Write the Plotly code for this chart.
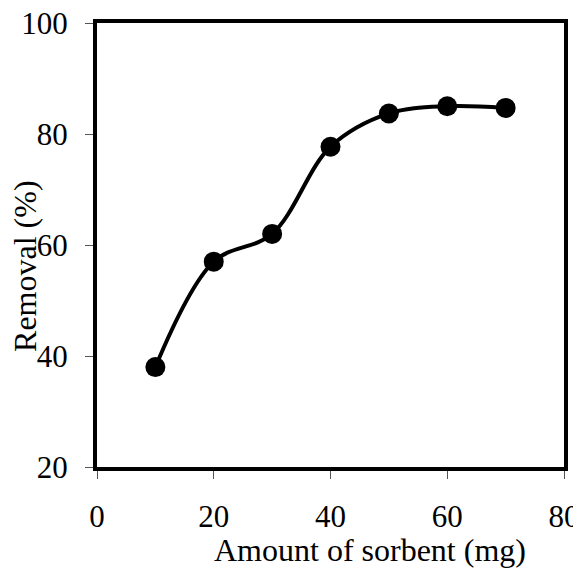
import plotly.graph_objects as go

sorbent_mg = [10, 20, 30, 40, 50, 60, 70]
removal_pct = [38, 57, 62, 77.7, 83.7, 85, 84.7]
x_ticks = [0, 20, 40, 60, 80]
y_ticks = [20, 40, 60, 80, 100]

font = "Liberation Serif, Times New Roman, serif"

fig = go.Figure(go.Scatter(
    x=sorbent_mg, y=removal_pct, mode="lines+markers",
    line=dict(color="black", width=4, shape="spline", smoothing=1.0),
    marker=dict(color="black", size=20),
    showlegend=False,
))

fig.update_layout(
    width=573, height=560,
    margin=dict(l=89, r=17, t=15, b=101, autoexpand=False),
    paper_bgcolor="white", plot_bgcolor="white",
    font=dict(family=font, size=31, color="black"),
    annotations=[
        dict(text="Amount of sorbent (mg)", xref="paper", yref="paper",
             x=0.585, y=-0.187, xanchor="center", yanchor="middle",
             showarrow=False, font=dict(size=32)),
        dict(text="Removal (%)", xref="paper", yref="paper",
             x=-0.154, y=0.453, xanchor="center", yanchor="middle",
             textangle=-90, showarrow=False, font=dict(size=32)),
    ],
)
fig.update_xaxes(
    range=[0, 80], tickvals=x_ticks, ticks="outside", ticklen=8, tickwidth=1,
    tickcolor="#555", showline=True, linewidth=4, linecolor="black", mirror=True,
    showgrid=False, zeroline=False, ticklabelstandoff=11, ticklabeloverflow="allow",
)
fig.update_yaxes(
    range=[20, 100], tickvals=y_ticks, ticks="outside", ticklen=8, tickwidth=1,
    tickcolor="#555", showline=True, linewidth=4, linecolor="black", mirror=True,
    showgrid=False, zeroline=False, ticklabelstandoff=11, ticklabeloverflow="allow",
)
fig.write_html("out.html")
